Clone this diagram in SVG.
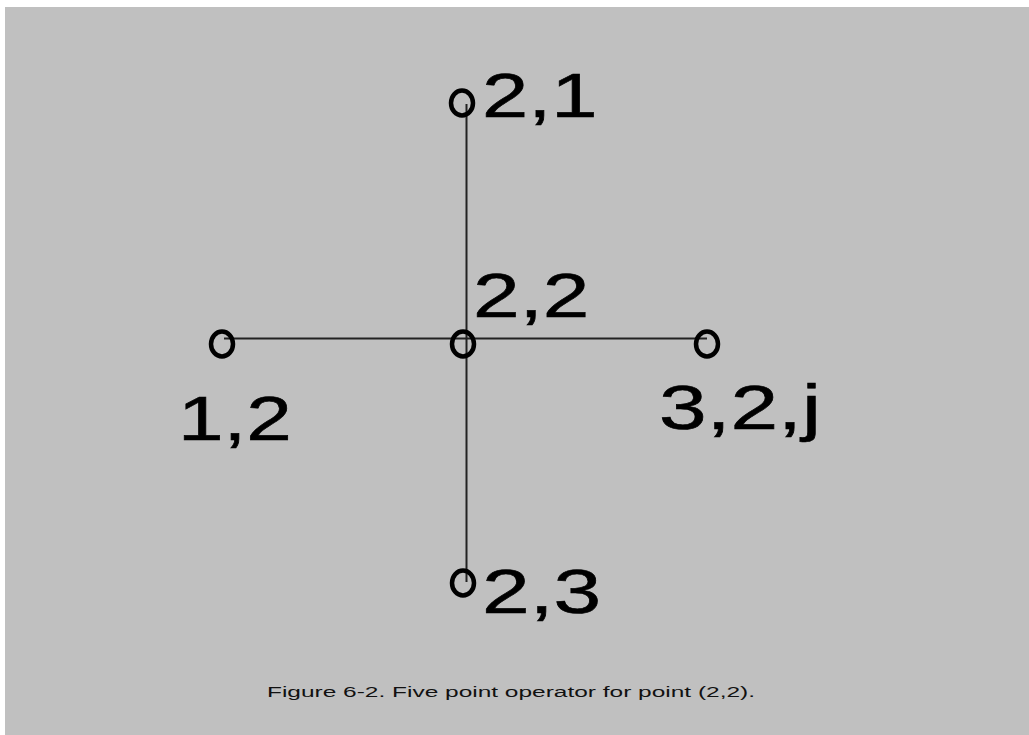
<svg xmlns="http://www.w3.org/2000/svg" width="1029" height="735" viewBox="0 0 1029 735">
<style>
.pt{fill:none;stroke:#000;stroke-width:4.5}
.lbl{font-family:"Liberation Sans",Arial,sans-serif;font-size:63px;fill:#000;stroke:#000;stroke-width:0.6}
.cap{font-family:"Liberation Sans",Arial,sans-serif;font-size:15.5px;fill:#111}
.conn line{stroke:#222;stroke-width:2}
</style>
<rect x="0" y="0" width="1029" height="735" fill="#ffffff"/>
<rect x="5" y="7" width="1024" height="728" fill="#c0c0c0"/>
<g class="conn" id="connectors">
<line x1="466.5" y1="104" x2="466.5" y2="582"/>
<line x1="224" y1="338.5" x2="707" y2="338.5"/>
</g>
<g id="n21"><ellipse class="pt" cx="462" cy="103" rx="11" ry="12.5"/><text class="lbl" transform="translate(482,117) scale(1.32,1)">2,1</text></g>
<g id="n22"><ellipse class="pt" cx="463" cy="344" rx="11" ry="12.5"/><text class="lbl" transform="translate(473,317) scale(1.33,1)">2,2</text></g>
<g id="n12"><ellipse class="pt" cx="222" cy="344" rx="11" ry="12.5"/><text class="lbl" transform="translate(178,440) scale(1.3,1)">1,2</text></g>
<g id="n32"><ellipse class="pt" cx="707" cy="344" rx="11" ry="12.5"/><text class="lbl" transform="translate(659,429) scale(1.36,1)">3,2,j</text></g>
<g id="n23"><ellipse class="pt" cx="463" cy="583" rx="11" ry="12.5"/><text class="lbl" transform="translate(482,613) scale(1.36,1)">2,3</text></g>
<text class="cap" x="267" y="697" textLength="488" lengthAdjust="spacingAndGlyphs">Figure 6-2.  Five point operator for point (2,2).</text>
</svg>
